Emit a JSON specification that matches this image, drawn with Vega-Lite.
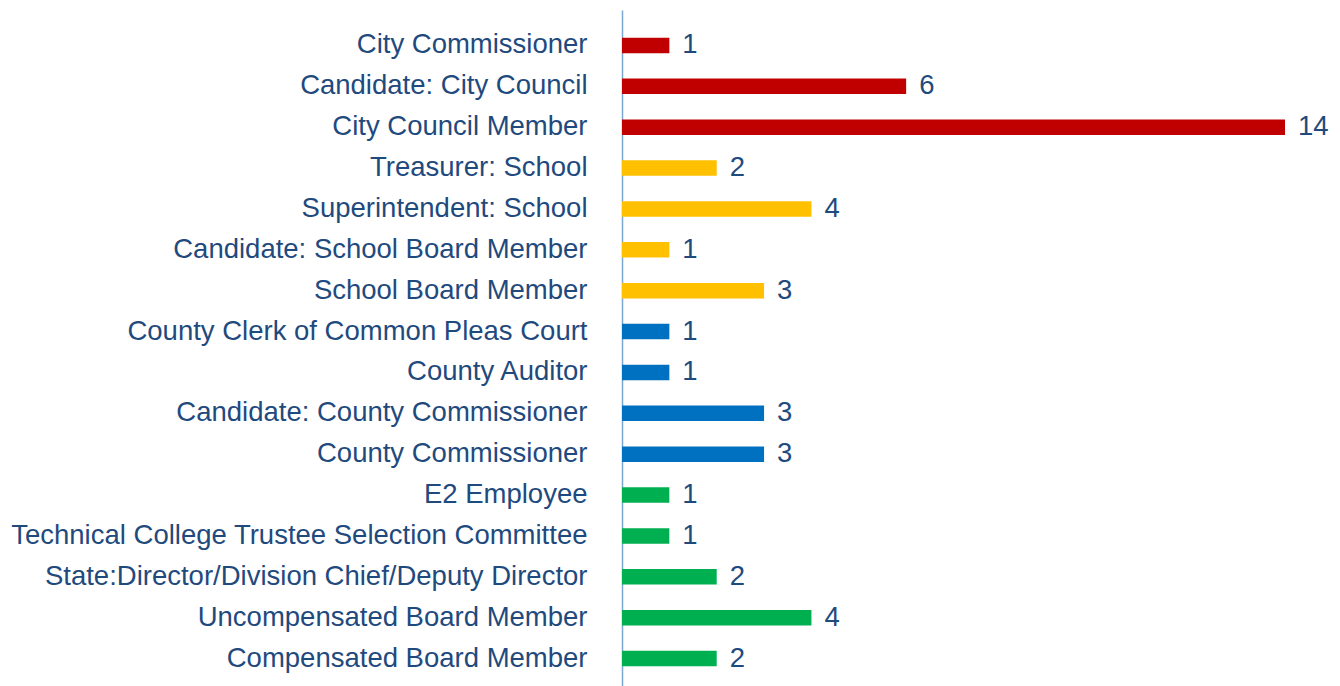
{
  "$schema": "https://vega.github.io/schema/vega-lite/v6.json",
  "width": 663,
  "height": 676,
  "autosize": {"type": "none"},
  "padding": {"left": 622, "top": 10, "right": 55, "bottom": 0},
  "background": "white",
  "config": {"view": {"stroke": null}, "font": "Liberation Sans"},
  "data": {"values": [
    {"role": "City Commissioner", "count": 1, "group": "City"},
    {"role": "Candidate: City Council", "count": 6, "group": "City"},
    {"role": "City Council Member", "count": 14, "group": "City"},
    {"role": "Treasurer: School", "count": 2, "group": "School"},
    {"role": "Superintendent: School", "count": 4, "group": "School"},
    {"role": "Candidate: School Board Member", "count": 1, "group": "School"},
    {"role": "School Board Member", "count": 3, "group": "School"},
    {"role": "County Clerk of Common Pleas Court", "count": 1, "group": "County"},
    {"role": "County Auditor", "count": 1, "group": "County"},
    {"role": "Candidate: County Commissioner", "count": 3, "group": "County"},
    {"role": "County Commissioner", "count": 3, "group": "County"},
    {"role": "E2 Employee", "count": 1, "group": "State"},
    {"role": "Technical College Trustee Selection Committee", "count": 1, "group": "State"},
    {"role": "State:Director/Division Chief/Deputy Director", "count": 2, "group": "State"},
    {"role": "Uncompensated Board Member", "count": 4, "group": "State"},
    {"role": "Compensated Board Member", "count": 2, "group": "State"}
  ]},
  "encoding": {
    "y": {
      "field": "role", "type": "nominal", "sort": null,
      "scale": {"paddingInner": 0, "paddingOuter": 0.27, "align": 0.68},
      "axis": {
        "title": null, "ticks": false, "labelPadding": 35,
        "labelFontSize": 27.5, "labelColor": "#1F4A7E", "labelLimit": 700,
        "domainColor": "#7BA7D0", "domainWidth": 1.5, "grid": false
      }
    },
    "x": {
      "field": "count", "type": "quantitative",
      "scale": {"domain": [0, 14], "nice": false},
      "axis": null
    }
  },
  "layer": [
    {
      "mark": {"type": "bar", "size": 15.5},
      "encoding": {
        "color": {
          "field": "group", "type": "nominal", "legend": null,
          "scale": {"domain": ["City", "School", "County", "State"], "range": ["#C00000", "#FFC000", "#0070C0", "#00B050"]}
        }
      }
    },
    {
      "mark": {"type": "text", "align": "left", "baseline": "middle", "dx": 13, "fontSize": 27.5, "color": "#1F4A7E"},
      "encoding": {"text": {"field": "count", "type": "quantitative"}}
    }
  ]
}
